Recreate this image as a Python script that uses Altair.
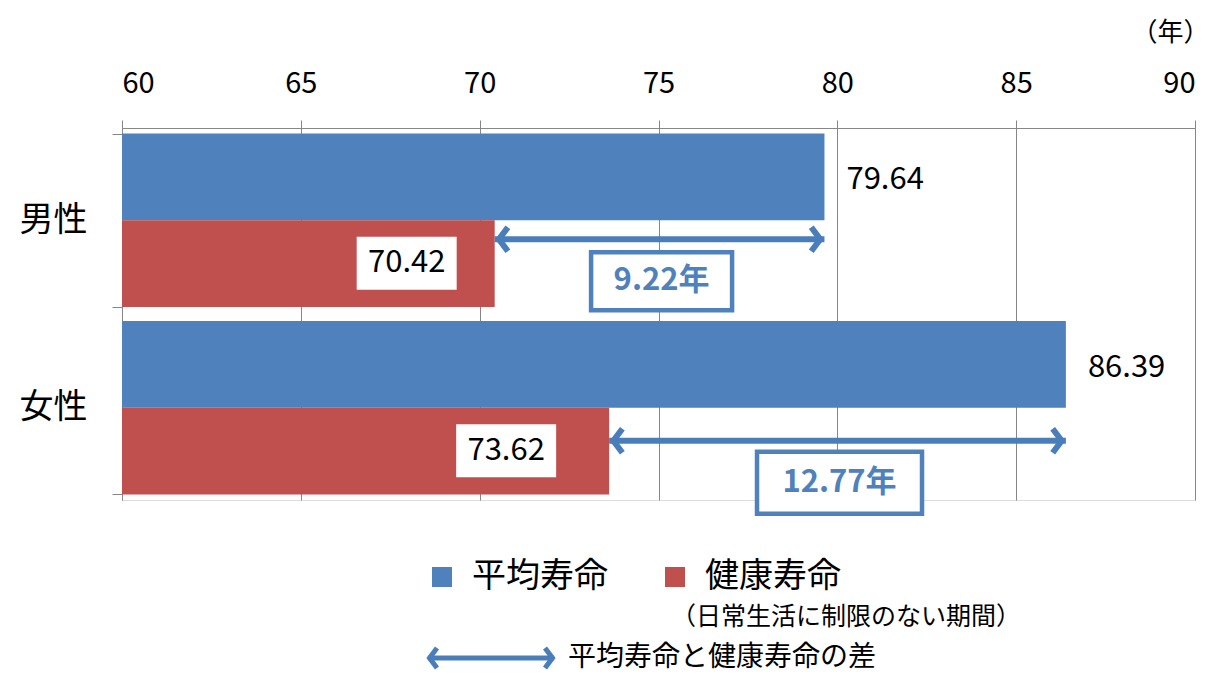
import altair as alt
import pandas as pd

# ---- data ----
sexes = ["男性", "女性"]
series = ["平均寿命", "健康寿命"]
avg_life = [79.64, 86.39]
healthy_life = [70.42, 73.62]
x_ticks = [60, 65, 70, 75, 80, 85, 90]
sub_note = ["（日常生活に制限のない期間）"]
arrow_note = ["平均寿命と健康寿命の差"]

BLUE = "#4F81BD"
RED = "#C0504D"
ARROW = "#4A7EBB"
GRID = "#868686"
FONT = "Noto Sans CJK JP"

long_df = pd.DataFrame({
    "sex": [s for s in sexes for _ in series],
    "series": series * len(sexes),
    "value": [v for pair in zip(avg_life, healthy_life) for v in pair],
})
wide_df = pd.DataFrame({"sex": sexes, "avg": avg_life, "health": healthy_life})

x_scale = alt.Scale(domain=[60, 90], nice=False, zero=False)
y_enc = alt.Y(
    "sex:N", sort=sexes,
    scale=alt.Scale(paddingInner=0.075, paddingOuter=0.03),
    axis=alt.Axis(title=None, labelFontSize=34, labelPadding=25, tickSize=10,
                  tickBand="extent", domainColor=GRID, tickColor=GRID,
                  labelColor="black", labelFont=FONT),
)
x_axis = alt.Axis(
    orient="top", values=x_ticks, tickSize=8, labelFontSize=29, labelPadding=22,
    labelColor="black", labelFont=FONT, grid=True, gridColor=GRID, domainColor=GRID,
    tickColor=GRID, title="（年）", titleX=1087, titleY=-96, titleAlign="right",
    titleBaseline="middle", titleFontSize=26, titleFontWeight="normal",
    titleColor="black", titleFont=FONT, titleAngle=0,
)

bars = alt.Chart(long_df).mark_bar(opacity=1).encode(
    x=alt.X("value:Q", scale=x_scale, axis=x_axis),
    x2=alt.datum(60),
    y=y_enc,
    yOffset=alt.YOffset("series:N", sort=series,
                        scale=alt.Scale(paddingInner=0, paddingOuter=0)),
    color=alt.Color(
        "series:N", sort=series,
        scale=alt.Scale(domain=series, range=[BLUE, RED]),
        legend=alt.Legend(orient="none", legendX=303, legendY=432,
                          direction="horizontal", title=None, labelFontSize=34,
                          labelFont=FONT, labelColor="black", symbolType="square",
                          symbolSize=400, labelOffset=13, columnPadding=50,
                          symbolStrokeWidth=0, symbolOpacity=1),
    ),
)

base_w = alt.Chart(wide_df)

avg_labels = base_w.mark_text(align="left", baseline="middle", dx=22, dy=-40,
                              fontSize=31, font=FONT, color="black").encode(
    x=alt.X("avg:Q", scale=x_scale), y=alt.Y("sex:N", sort=sexes),
    text=alt.Text("avg:Q", format=".2f"),
)

# per-row style (offsets / box sizes)
row_style = {
    "男性": dict(arrow_dy=19, box_dy=61, box_w=141, box_h=58, label_dx=-88),
    "女性": dict(arrow_dy=33, box_dy=75, box_w=165, box_h=62, label_dx=-103),
}


def rect_path(w, h):
    k = h / w
    return f"M-1,-{k:.3f} L1,-{k:.3f} L1,{k:.3f} L-1,{k:.3f} Z"


LEFT_HEAD = "M1.1,-1 L0.35,0 L1.1,1"
RIGHT_HEAD = "M-1.1,-1 L-0.35,0 L-1.1,1"

row_layers = []
for sex in sexes:
    st = row_style[sex]
    b = base_w.transform_filter(alt.datum.sex == sex).transform_calculate(
        mid="(datum.avg + datum.health) / 2",
        diff_label="format(datum.avg - datum.health, '.2f') + '年'",
    )
    y = alt.Y("sex:N", sort=sexes)
    # white label box + health value
    row_layers.append(b.mark_point(shape=rect_path(100, 53), size=100 ** 2, filled=True,
                                   color="white", opacity=1, xOffset=st["label_dx"],
                                   yOffset=43).encode(
        x=alt.X("health:Q", scale=x_scale), y=y))
    row_layers.append(b.mark_text(fontSize=31, font=FONT, color="black", baseline="middle",
                                  align="center", dx=st["label_dx"], dy=43).encode(
        x=alt.X("health:Q", scale=x_scale), y=y,
        text=alt.Text("health:Q", format=".2f")))
    # arrow shaft and heads
    row_layers.append(b.mark_rule(color=ARROW, strokeWidth=6, yOffset=st["arrow_dy"]).encode(
        x=alt.X("health:Q", scale=x_scale), x2="avg:Q", y=y))
    row_layers.append(b.mark_point(shape=LEFT_HEAD, size=24 ** 2, filled=False, color=ARROW,
                                   strokeWidth=6, opacity=1, yOffset=st["arrow_dy"]).encode(
        x=alt.X("health:Q", scale=x_scale), y=y))
    row_layers.append(b.mark_point(shape=RIGHT_HEAD, size=24 ** 2, filled=False, color=ARROW,
                                   strokeWidth=6, opacity=1, yOffset=st["arrow_dy"]).encode(
        x=alt.X("avg:Q", scale=x_scale), y=y))
    # difference box
    row_layers.append(b.mark_point(shape=rect_path(st["box_w"], st["box_h"]),
                                   size=st["box_w"] ** 2, fill="white", stroke=BLUE,
                                   strokeWidth=4.5, opacity=1, fillOpacity=1,
                                   xOffset=2, yOffset=st["box_dy"]).encode(
        x=alt.X("mid:Q", scale=x_scale), y=y))
    row_layers.append(b.mark_text(fontSize=31, font=FONT, fontWeight="bold", color=BLUE,
                                  baseline="middle", align="center", dx=2,
                                  dy=st["box_dy"]).encode(
        x=alt.X("mid:Q", scale=x_scale), y=y, text="diff_label:N"))

# legend extras (sub note and arrow legend)
note = alt.Chart(pd.DataFrame({"t": sub_note})).mark_text(
    align="left", baseline="middle", fontSize=25, font=FONT, color="black").encode(
    x=alt.value(549), y=alt.value(489), text="t:N")

ARROW_Y = 530
arrow_df = pd.DataFrame({"t": arrow_note})
leg_rule = alt.Chart(arrow_df).mark_rule(color=ARROW, strokeWidth=5).encode(
    x=alt.value(306), x2=alt.value(432), y=alt.value(ARROW_Y))
leg_l = alt.Chart(arrow_df).mark_point(shape=LEFT_HEAD, size=20 ** 2, filled=False,
                                       color=ARROW, strokeWidth=5, opacity=1).encode(
    x=alt.value(304), y=alt.value(ARROW_Y))
leg_r = alt.Chart(arrow_df).mark_point(shape=RIGHT_HEAD, size=20 ** 2, filled=False,
                                       color=ARROW, strokeWidth=5, opacity=1).encode(
    x=alt.value(434), y=alt.value(ARROW_Y))
leg_text = alt.Chart(arrow_df).mark_text(
    align="left", baseline="middle", fontSize=28, font=FONT, color="black").encode(
    x=alt.value(446), y=alt.value(ARROW_Y), text="t:N")

chart = alt.layer(bars, avg_labels, *row_layers, note, leg_rule, leg_l, leg_r, leg_text).properties(
    width=1073, height=372,
    padding={"left": 114, "top": 120, "right": 15, "bottom": 179},
    autosize=alt.AutoSizeParams(type="none"),
).configure_view(stroke=None).configure(font=FONT)

chart.save("out.html", embed_options={"renderer": "svg", "actions": False})
